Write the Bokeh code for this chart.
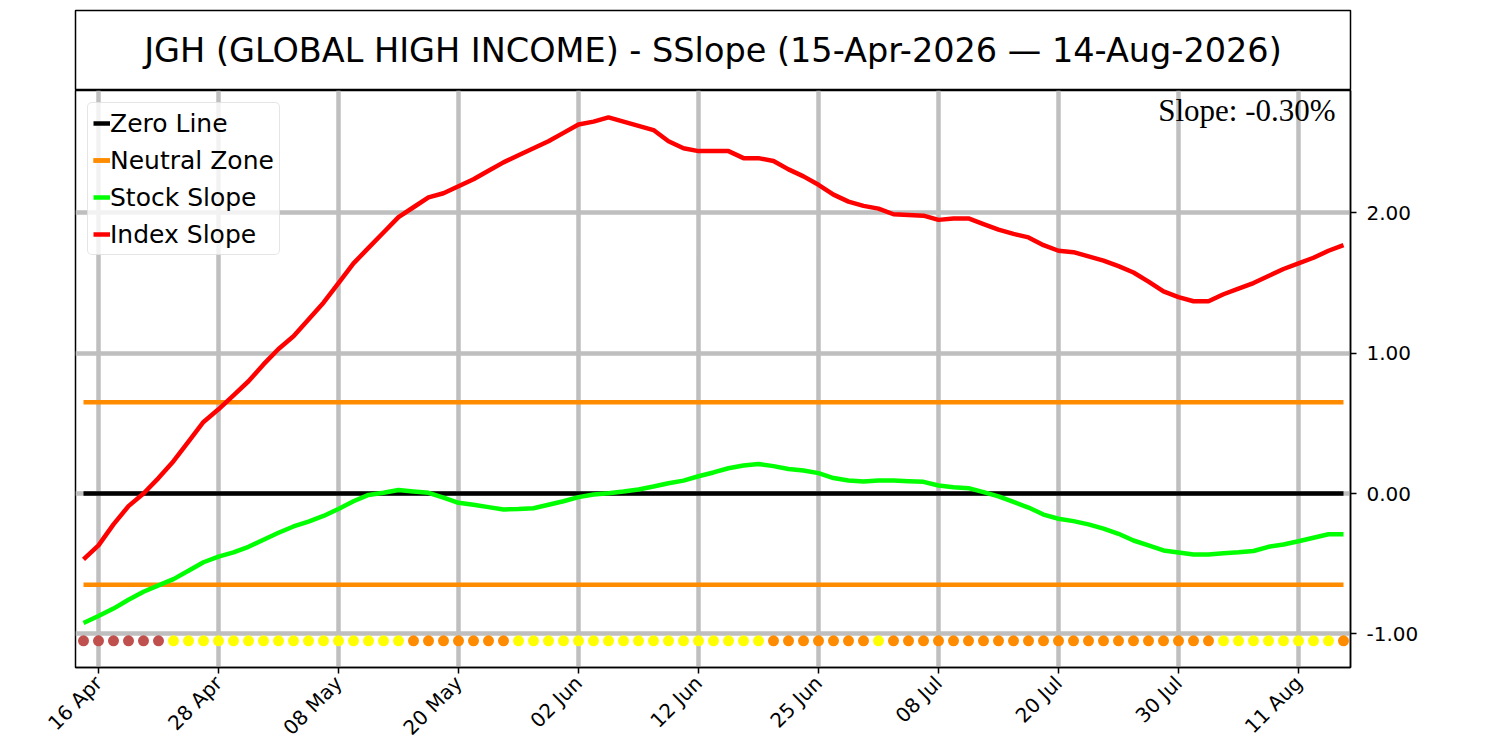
import math
import pandas as pd
from bokeh.plotting import figure
from bokeh.layouts import column
from bokeh.models import (Range1d, FixedTicker, NumeralTickFormatter, Legend,
                          LegendItem, Label, ColumnDataSource)
from bokeh.core.properties import value
from bokeh.embed import file_html
from bokeh.resources import INLINE

# ---------------- data ----------------
title_text = "JGH (GLOBAL HIGH INCOME) - SSlope (15-Apr-2026 \u2014 14-Aug-2026)"
holidays = ["2026-05-25", "2026-06-19", "2026-07-03"]
dates = pd.bdate_range("2026-04-15", "2026-08-14", freq="C", holidays=holidays)
day_labels = [d.strftime("%d %b") for d in dates]

tick_labels = ["16 Apr", "28 Apr", "08 May", "20 May", "02 Jun", "12 Jun",
               "25 Jun", "08 Jul", "20 Jul", "30 Jul", "11 Aug"]
y_ticks = [-1.0, 0.0, 1.0, 2.0]

index_slope = [
    -0.47, -0.37, -0.22, -0.09, 0.00, 0.11, 0.23, 0.37, 0.51, 0.60,
    0.70, 0.80, 0.92, 1.03, 1.12, 1.24, 1.36, 1.50, 1.64, 1.75,
    1.86, 1.97, 2.04, 2.11, 2.14, 2.19, 2.24, 2.30,
    2.36, 2.41, 2.46, 2.51, 2.57, 2.63, 2.65, 2.68, 2.65, 2.62,
    2.59, 2.51, 2.46, 2.44, 2.44, 2.44, 2.39, 2.39, 2.37, 2.31,
    2.26, 2.20, 2.13, 2.08, 2.05, 2.03, 1.99, 1.985,
    1.98, 1.95, 1.96, 1.96, 1.92, 1.88, 1.85, 1.825, 1.77, 1.73,
    1.72, 1.69, 1.66, 1.62, 1.575, 1.51, 1.44, 1.40, 1.37, 1.37,
    1.42, 1.46, 1.50, 1.55, 1.60, 1.64, 1.68, 1.73, 1.77,
]

stock_slope = [
    -0.923, -0.873, -0.82, -0.757, -0.70, -0.655, -0.61, -0.55, -0.49, -0.45,
    -0.42, -0.38, -0.33, -0.28, -0.235, -0.20, -0.16, -0.11, -0.055, -0.01,
    0.005, 0.025, 0.015, 0.005, -0.03, -0.066, -0.08, -0.097,
    -0.114, -0.11, -0.105, -0.08, -0.055, -0.026, -0.007, 0.002, 0.014, 0.028,
    0.05, 0.073, 0.092, 0.123, 0.15, 0.18, 0.20, 0.21, 0.195, 0.175,
    0.164, 0.145, 0.11, 0.092, 0.085, 0.092, 0.092, 0.088,
    0.083, 0.057, 0.045, 0.038, 0.01, -0.02, -0.06, -0.10, -0.15, -0.18,
    -0.197, -0.22, -0.25, -0.287, -0.335, -0.37, -0.406, -0.42, -0.434, -0.434,
    -0.425, -0.418, -0.41, -0.38, -0.363, -0.34, -0.315, -0.29, -0.29,
]

signal = list("BBBBBB" + "Y" * 16 + "O" * 7 + "Y" * 17 + "O" * 7 + "Y" + "O" * 22 + "Y" * 8 + "O")
signal_colors = {"B": "#c0504d", "Y": "#ffff00", "O": "#ff8c00"}
signal_level = -1.05
neutral_band = 0.65
slope_text = "Slope: -0.30%"

# ---------------- derived ----------------
n = len(dates)
idx = list(range(n))
tick_idx = [day_labels.index(l) for l in tick_labels]
src = ColumnDataSource(dict(
    x=idx, index_slope=index_slope, stock_slope=stock_slope,
    zero=[0.0] * n, up=[neutral_band] * n, dn=[-neutral_band] * n,
    sig=[signal_level] * n, col=[signal_colors[s] for s in signal],
))

FONT = "DejaVu Sans"
GRID = "#bfbfbf"
LW = 4.5

# ---------------- title box ----------------
t = figure(frame_width=1275, frame_height=80, x_range=Range1d(0, 1), y_range=Range1d(0, 1),
           x_axis_type=None, y_axis_type=None, toolbar_location=None, output_backend="svg",
           min_border_left=75, min_border_right=140, min_border_top=10, min_border_bottom=0)
t.grid.visible = False
t.outline_line_color = "black"
t.outline_line_width = 1.5
t.text(x=[0.5], y=[0.5], text=[title_text], text_align="center", text_baseline="middle",
       text_font=value(FONT), text_font_size=value("33.5px"), text_color="black")

# ---------------- main plot ----------------
p = figure(frame_width=1275, frame_height=577,
           x_range=Range1d(-0.533, 84.467), y_range=Range1d(-1.240, 2.872),
           y_axis_location="right", toolbar_location=None, output_backend="svg",
           min_border_left=75, min_border_right=140, min_border_top=0, min_border_bottom=80)
p.outline_line_color = "black"
p.outline_line_width = 1.5

xt = FixedTicker(ticks=tick_idx)
p.xaxis.ticker = xt
p.xaxis.major_label_overrides = {i: l for i, l in zip(tick_idx, tick_labels)}
p.xaxis.major_label_orientation = math.pi / 4
p.yaxis.ticker = FixedTicker(ticks=y_ticks)
p.yaxis.formatter = NumeralTickFormatter(format="0.00")
for ax in (p.xaxis, p.yaxis):
    ax.major_label_text_font = FONT
    ax.major_label_text_font_size = "20px"
    ax.major_label_text_color = "black"
    ax.axis_line_color = "black"
    ax.axis_line_width = 1.5
    ax.major_tick_line_color = "black"
    ax.major_tick_line_width = 1.5
    ax.major_tick_out = 6
    ax.major_tick_in = 0
    ax.minor_tick_line_color = None
p.xaxis.major_label_standoff = 6
p.yaxis.major_label_standoff = 10

p.xgrid.ticker = xt
p.ygrid.ticker = FixedTicker(ticks=y_ticks)
p.grid.grid_line_color = GRID
p.grid.grid_line_width = LW

r_zero = p.line("x", "zero", source=src, line_color="black", line_width=LW)
r_up = p.line("x", "up", source=src, line_color="#ff8c00", line_width=LW)
r_dn = p.line("x", "dn", source=src, line_color="#ff8c00", line_width=LW)
r_stock = p.line("x", "stock_slope", source=src, line_color="#00ff00", line_width=LW)
r_index = p.line("x", "index_slope", source=src, line_color="#ff0000", line_width=LW)
p.scatter("x", "sig", source=src, color="col", size=11, line_width=0)

legend = Legend(items=[
    LegendItem(label="Zero Line", renderers=[r_zero]),
    LegendItem(label="Neutral Zone", renderers=[r_up, r_dn]),
    LegendItem(label="Stock Slope", renderers=[r_stock]),
    LegendItem(label="Index Slope", renderers=[r_index]),
], location="top_left")
legend.label_text_font = FONT
legend.label_text_font_size = "25px"
legend.label_text_color = "black"
legend.glyph_width = 17
legend.glyph_height = 30
legend.label_height = 30
legend.label_standoff = 0
legend.spacing = 7
legend.padding = 5
legend.margin = 12
legend.border_line_color = "#cccccc"
legend.border_line_width = 1.5
legend.border_radius = 5
legend.background_fill_color = "white"
legend.background_fill_alpha = 0.8
p.add_layout(legend)

p.add_layout(Label(x=83.47, y=2.855, text=slope_text, text_align="right", text_baseline="top",
                   text_font="Liberation Serif", text_font_size="31px", text_color="black"))

layout = column(t, p, spacing=0)
open("out.html", "w").write(file_html(layout, INLINE))
